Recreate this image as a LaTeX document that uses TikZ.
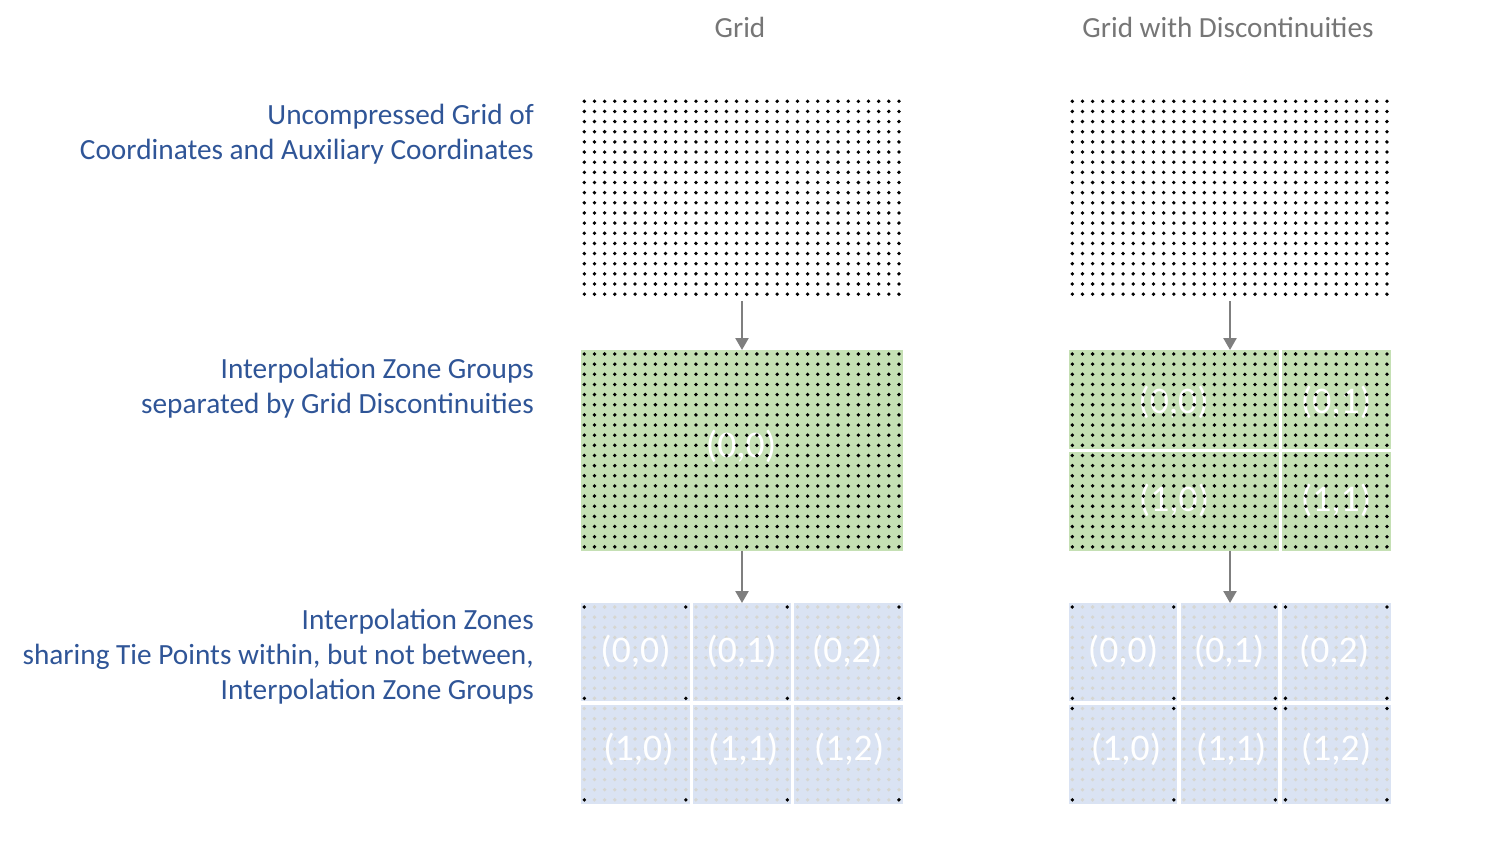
\documentclass[tikz,border=0pt]{standalone}
\usepackage{fontspec}
\setmainfont{Carlito}
\usetikzlibrary{arrows.meta}
\definecolor{labelblue}{RGB}{47,85,151}
\definecolor{titlegray}{RGB}{118,118,118}
\definecolor{zonegreen}{RGB}{197,224,180}
\definecolor{zoneblue}{RGB}{218,227,243}
\definecolor{paledot}{RGB}{214,214,208}
\definecolor{arrowgray}{RGB}{127,127,127}
\newcommand\mydotgrid[4]{%
  \foreach \i in {0,...,31}{\foreach \j in {0,...,19}{%
    \fill[#3] (#1+\i*10.15,#2+\j*10.15) circle (#4);}}}
\begin{document}
\begin{tikzpicture}[x=1pt,y=-1pt,
  title/.style={text=titlegray,font=\fontsize{29.2}{35}\selectfont,inner sep=0pt},
  rowlabel/.style={text=labelblue,align=right,anchor=east,font=\fontsize{29.3}{35}\selectfont,inner sep=0pt},
  zonetext/.style={text=white,font=\fontsize{37.6}{42}\selectfont,inner sep=0pt},
  panel/.style={minimum width=322pt,inner sep=0pt,outer sep=0pt},
  zonebox/.style={fill=#1,inner sep=0pt,outer sep=0pt,anchor=north west},
  flow/.style={draw=arrowgray,line width=2.4pt,-{Triangle[width=13pt,length=12pt]}},
]
\useasboundingbox (0,0) rectangle (1487,850);

% titles
\node[title] (tL) at (740,27) {Grid};
\node[title] (tR) at (1228,27) {Grid with Discontinuities};

% row labels
\node[rowlabel] (lab1) at (534,134) {Uncompressed Grid of\\Coordinates and Auxiliary Coordinates};
\node[rowlabel] (lab2) at (534,388) {Interpolation Zone Groups\\separated by Grid Discontinuities};
\node[rowlabel] (lab3) at (534,657) {Interpolation Zones\\sharing Tie Points within, but not between,\\Interpolation Zone Groups};

% panels (frames)
\node[panel,minimum height=204pt] (gridL) at (742,199) {};
\node[panel,minimum height=200.7pt,fill=zonegreen] (greenL) at (742,450.35) {};
\node[panel,minimum height=201pt] (blueL) at (742,703.5) {};
\node[panel,minimum height=204pt] (gridR) at (1230,199) {};
\node[panel,minimum height=200.7pt] (greenR) at (1230,450.35) {};
\node[panel,minimum height=201pt] (blueR) at (1230,703.5) {};

% right green groups
\node[zonebox=zonegreen,minimum width=210pt,minimum height=98.7pt] (gR00) at (1069,350) {};
\node[zonebox=zonegreen,minimum width=109pt,minimum height=98.7pt] (gR01) at (1282,350) {};
\node[zonebox=zonegreen,minimum width=210pt,minimum height=99pt] (gR10) at (1069,451.7) {};
\node[zonebox=zonegreen,minimum width=109pt,minimum height=99pt] (gR11) at (1282,451.7) {};

% left blue zones
\node[zonebox=zoneblue,minimum width=109pt,minimum height=98pt] (bL00) at (581,603) {};
\node[zonebox=zoneblue,minimum width=97.4pt,minimum height=98pt] (bL01) at (693.3,603) {};
\node[zonebox=zoneblue,minimum width=109pt,minimum height=98pt] (bL02) at (794,603) {};
\node[zonebox=zoneblue,minimum width=109pt,minimum height=99pt] (bL10) at (581,705) {};
\node[zonebox=zoneblue,minimum width=97.4pt,minimum height=99pt] (bL11) at (693.3,705) {};
\node[zonebox=zoneblue,minimum width=109pt,minimum height=99pt] (bL12) at (794,705) {};
% right blue zones
\node[zonebox=zoneblue,minimum width=108.3pt,minimum height=98pt] (bR00) at (1069,603) {};
\node[zonebox=zoneblue,minimum width=97.3pt,minimum height=98pt] (bR01) at (1180.7,603) {};
\node[zonebox=zoneblue,minimum width=109pt,minimum height=98pt] (bR02) at (1282,603) {};
\node[zonebox=zoneblue,minimum width=108.3pt,minimum height=99pt] (bR10) at (1069,705) {};
\node[zonebox=zoneblue,minimum width=97.3pt,minimum height=99pt] (bR11) at (1180.7,705) {};
\node[zonebox=zoneblue,minimum width=109pt,minimum height=99pt] (bR12) at (1282,705) {};

% pale dots in blue zones
\mydotgrid{584.3}{607}{paledot}{1.9pt}
\mydotgrid{1072.3}{607}{paledot}{1.9pt}

% zone labels
\node[zonetext] (zgL) at (741,446) {(0,0)};
\node[zonetext] (zgR00) at (1173.5,402) {(0,0)};
\node[zonetext] (zgR01) at (1336,402) {(0,1)};
\node[zonetext] (zgR10) at (1174,500) {(1,0)};
\node[zonetext] (zgR11) at (1336,500) {(1,1)};

\node[zonetext] (zbL00) at (635.5,651) {(0,0)};
\node[zonetext] (zbL01) at (741.5,651) {(0,1)};
\node[zonetext] (zbL02) at (847,651) {(0,2)};
\node[zonetext] (zbL10) at (638.5,749) {(1,0)};
\node[zonetext] (zbL11) at (743,749) {(1,1)};
\node[zonetext] (zbL12) at (849,749) {(1,2)};
\node[zonetext] (zbR00) at (1123,651) {(0,0)};
\node[zonetext] (zbR01) at (1229,651) {(0,1)};
\node[zonetext] (zbR02) at (1334,651) {(0,2)};
\node[zonetext] (zbR10) at (1126,749) {(1,0)};
\node[zonetext] (zbR11) at (1231,749) {(1,1)};
\node[zonetext] (zbR12) at (1336,749) {(1,2)};

% black dot grids
\mydotgrid{584.3}{101.3}{black}{1.9pt}
\mydotgrid{1072.3}{101.3}{black}{1.9pt}
\mydotgrid{584.3}{354}{black}{1.9pt}
\mydotgrid{1072.3}{354}{black}{1.9pt}

% tie points
\foreach \i in {0,10,20,31}{\foreach \j in {0,9,19}{%
  \fill (584.3+\i*10.15,607+\j*10.15) circle (1.9pt);}}
\foreach \i in {0,10,20,21,31}{\foreach \j in {0,9,10,19}{%
  \fill (1072.3+\i*10.15,607+\j*10.15) circle (1.9pt);}}

% arrows
\draw[flow] (gridL.south) -- (greenL.north);
\draw[flow] (greenL.south) -- (blueL.north);
\draw[flow] (gridR.south) -- (greenR.north);
\draw[flow] (greenR.south) -- (blueR.north);
\end{tikzpicture}
\end{document}
